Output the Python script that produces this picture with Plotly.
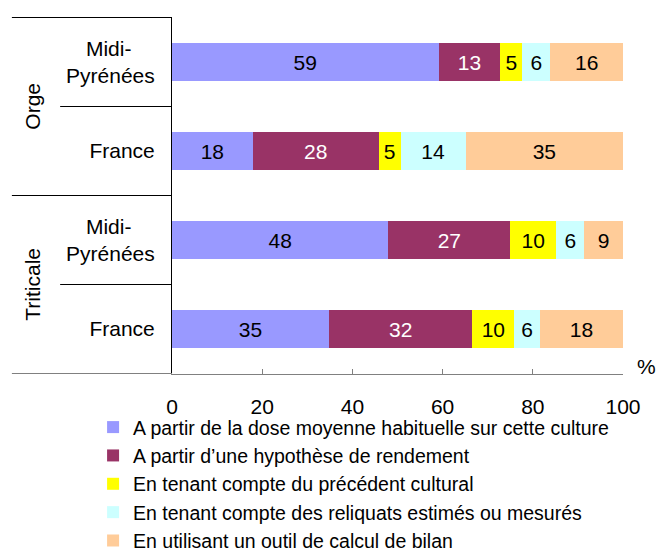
import plotly.graph_objects as go

# Categories (top to bottom)
groups = ["Orge", "Orge", "Triticale", "Triticale"]
regions = ["Midi-Pyrénées", "France", "Midi-Pyrénées", "France"]
cat_ids = ["Orge|MP", "Orge|FR", "Triticale|MP", "Triticale|FR"]
tick_labels = ["Midi-\u00a0\u00a0\u00a0\u00a0<br>Pyrénées", "France",
               "Midi-\u00a0\u00a0\u00a0\u00a0<br>Pyrénées", "France"]

series_names = [
    "A partir de la dose moyenne habituelle sur cette culture",
    "A partir d\u2019une hypothèse de rendement",
    "En tenant compte du précédent cultural",
    "En tenant compte des reliquats estimés ou mesurés",
    "En utilisant un outil de calcul de bilan",
]
# bar lengths (%)
dose_moyenne = [59.1, 17.9, 48.0, 34.8]
hypothese_rendement = [13.7, 27.9, 27.0, 31.8]
precedent_cultural = [4.9, 4.9, 10.2, 9.3]
reliquats = [6.2, 14.4, 6.2, 5.7]
outil_bilan = [16.1, 34.9, 8.6, 18.4]
# printed labels
dose_moyenne_lbl = [59, 18, 48, 35]
hypothese_rendement_lbl = [13, 28, 27, 32]
precedent_cultural_lbl = [5, 5, 10, 10]
reliquats_lbl = [6, 14, 6, 6]
outil_bilan_lbl = [16, 35, 9, 18]

x_ticks = [0, 20, 40, 60, 80, 100]

values = [dose_moyenne, hypothese_rendement, precedent_cultural, reliquats, outil_bilan]
labels = [dose_moyenne_lbl, hypothese_rendement_lbl, precedent_cultural_lbl, reliquats_lbl, outil_bilan_lbl]
colors = ["#9999FF", "#993366", "#FFFF00", "#CCFFFF", "#FFCC99"]
text_colors = ["black", "white", "black", "black", "black"]

FONT = "Liberation Sans, Arial, sans-serif"
FS = 21
LFS = 19.5

fig = go.Figure()
for name, vals, lbl, col, tcol in zip(series_names, values, labels, colors, text_colors):
    fig.add_trace(go.Bar(
        y=cat_ids, x=vals, name=name, orientation="h",
        marker=dict(color=col, line=dict(width=0)),
        text=[str(v) for v in lbl], textposition="inside",
        insidetextanchor="middle", constraintext="none",
        textfont=dict(color=tcol, size=FS, family=FONT),
        hoverinfo="skip",
    ))

fig.update_layout(
    width=667, height=553,
    barmode="stack", bargap=0.57,
    margin=dict(l=172, r=44, t=17, b=179, autoexpand=False),
    paper_bgcolor="white", plot_bgcolor="white",
    font=dict(family=FONT, size=FS, color="black"),
    showlegend=True,
    legend=dict(orientation="v", x=-0.175, y=-0.095, xanchor="left", yanchor="top",
                font=dict(size=LFS, family=FONT, color="black"),
                bgcolor="rgba(0,0,0,0)", traceorder="normal", maxheight=400),
    xaxis=dict(range=[0, 100], tickvals=x_ticks, ticks="inside", ticklen=5,
               tickcolor="#808080", showline=True, linecolor="#808080", linewidth=1,
               showgrid=False, zeroline=False, ticklabelstandoff=14,
               tickfont=dict(size=FS, family=FONT)),
    yaxis=dict(type="category", categoryorder="array", categoryarray=cat_ids,
               tickvals=cat_ids, ticktext=tick_labels,
               autorange="reversed", showline=True, linecolor="black", linewidth=1,
               ticks="", showgrid=False, zeroline=False, ticklabelstandoff=12,
               tickfont=dict(size=FS, family=FONT)),
)

# group dividers
full_x0 = -0.355
inner_x0 = -0.248
for yv, x0, col in [(-0.5, full_x0, "black"), (0.5, inner_x0, "black"),
                    (1.5, full_x0, "black"), (2.5, inner_x0, "black"),
                    (3.5, full_x0, "#808080")]:
    fig.add_shape(type="line", xref="paper", yref="y", x0=x0, x1=0, y0=yv, y1=yv,
                  line=dict(color=col, width=1))

# group labels
for g, yv in [("Orge", 0.5), ("Triticale", 2.5)]:
    fig.add_annotation(text=g, xref="paper", yref="y", x=-0.31, y=yv, textangle=-90,
                       xanchor="center", yanchor="middle",
                       showarrow=False, font=dict(size=FS, family=FONT, color="black"))

fig.add_annotation(text="%", xref="paper", yref="paper", x=1.053, y=0.02,
                   xanchor="center", yanchor="middle",
                   showarrow=False, font=dict(size=FS, family=FONT, color="black"))

fig.write_html("out.html", config={"displayModeBar": False},
               post_script="document.body.style.margin='0';")
